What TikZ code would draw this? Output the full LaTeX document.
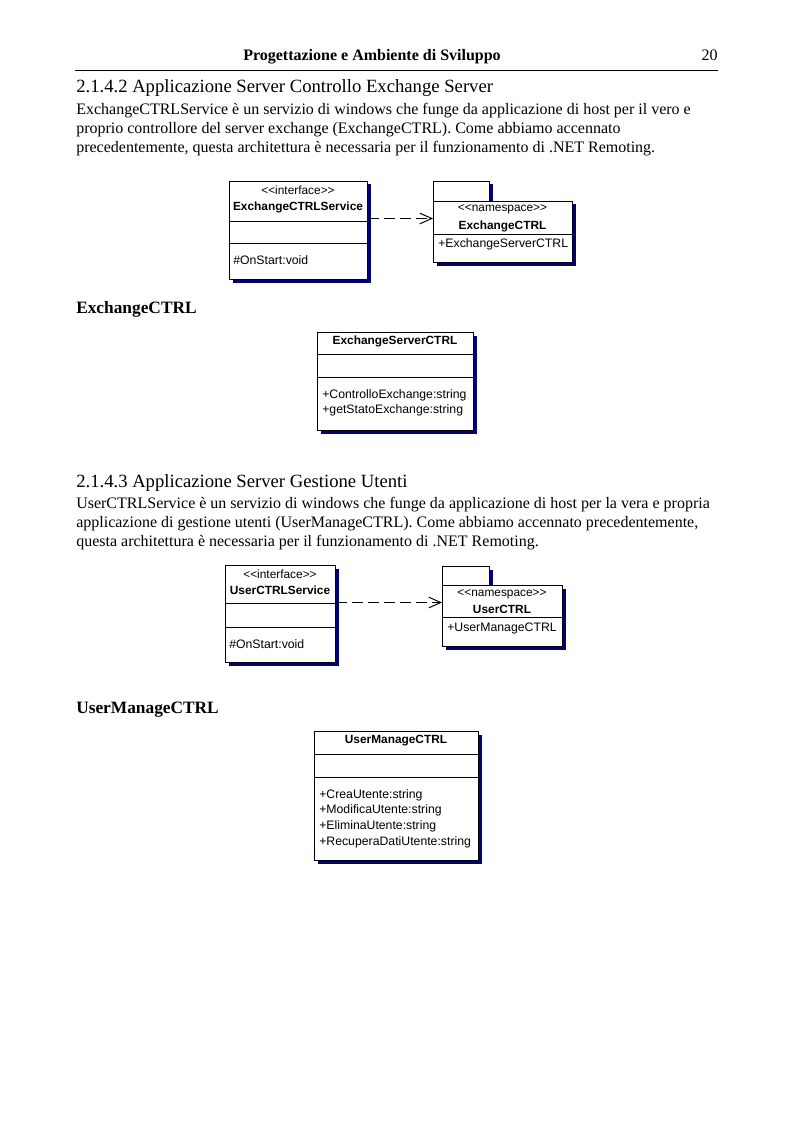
\documentclass[tikz,border=0pt]{standalone}
\usepackage{fontspec}
\setmainfont{Liberation Serif}
\newfontfamily\umlfont{Liberation Sans}
\usepackage{xcolor}
\usetikzlibrary{arrows.meta,shadows}
\definecolor{umlshadow}{RGB}{0,0,128}
\def\px{0.75pt}

\begin{document}
\begin{tikzpicture}[x=0.75pt, y=-0.75pt,
  txt/.style={anchor=base west, inner sep=0, align=left, font=\fontsize{12}{14.25}\selectfont},
  umlbox/.style={draw, fill=white, line width=0.75pt, inner sep=0, anchor=north west,
    drop shadow={shadow xshift=3*\px, shadow yshift=-3*\px, fill=umlshadow, opacity=1}},
  umlname/.style={inner sep=0, anchor=mid, font=\umlfont\fontsize{8.9}{10}\selectfont\bfseries},
  umlnote/.style={inner sep=0, anchor=mid, font=\umlfont\fontsize{8.9}{10}\selectfont},
  umlop/.style={inner sep=0, anchor=mid west, font=\umlfont\fontsize{9.2}{10}\selectfont},
  dep/.style={dash pattern=on 8.5pt off 3.5pt, line width=0.75pt, -{Straight Barb[length=9pt,width=8pt]}}]
\useasboundingbox[fill=white] (0,0) rectangle (793,1123);

% header
\node[txt, anchor=base, font=\fontsize{12}{14}\selectfont\bfseries] (head) at (372,61) {Progettazione e Ambiente di Sviluppo};
\node[txt, anchor=base east] (pagenum) at (718,61) {20};
\draw[line width=0.6pt] (75,70) -- (718,70);

% 2.1.4.2
\node[txt, font=\fontsize{14}{16}\selectfont] (sec1) at (76,93) {2.1.4.2 Applicazione Server Controllo Exchange Server};
\node[txt] (par1) at (76,153) {ExchangeCTRLService è un servizio di windows che funge da applicazione di host per il vero e\\
proprio controllore del server exchange (ExchangeCTRL). Come abbiamo accennato\\
precedentemente, questa architettura è necessaria per il funzionamento di .NET Remoting.};

\node[umlbox, minimum width=138*\px, minimum height=98*\px] (exsvc) at (229,181) {};
\draw (exsvc.north west) ++(0,40) -- ++(138,0) ++(-138,22) -- ++(138,0);
\node[umlnote] (exsvcst) at (298,191) {<<interface>>};
\node[umlname] (exsvcname) at (298,207) {ExchangeCTRLService};
\node[umlop] (exsvcop) at (233,261) {\#OnStart:void};

\node[umlbox, minimum width=56*\px, minimum height=20*\px] (exnstab) at (433,181) {};
\node[umlbox, minimum width=139*\px, minimum height=61*\px] (exns) at (433,201) {};
\draw (exns.north west) ++(0,33) -- ++(139,0);
\node[umlnote] (exnsst) at (502.5,208) {<<namespace>>};
\node[umlname] (exnsname) at (502.5,226) {ExchangeCTRL};
\node[umlop] (exnsop) at (438,244) {+ExchangeServerCTRL};

\draw[dep] ([yshift=12*\px]exsvc.east) coordinate (d1) -- (d1 -| exns.west);

\node[txt, font=\fontsize{13}{15}\selectfont\bfseries] (sub1) at (76,313) {ExchangeCTRL};

\node[umlbox, minimum width=156*\px, minimum height=98*\px] (exsrv) at (317,332) {};
\draw (exsrv.north west) ++(0,22) -- ++(156,0) ++(-156,23) -- ++(156,0);
\node[umlname] (exsrvname) at (395,341) {ExchangeServerCTRL};
\node[umlop] (exsrvop1) at (322,395) {+ControlloExchange:string};
\node[umlop] (exsrvop2) at (322,410.5) {+getStatoExchange:string};

% 2.1.4.3
\node[txt, font=\fontsize{14}{16}\selectfont] (sec2) at (76,487) {2.1.4.3 Applicazione Server Gestione Utenti};
\node[txt] (par2) at (76,546) {UserCTRLService è un servizio di windows che funge da applicazione di host per la vera e propria\\
applicazione di gestione utenti (UserManageCTRL). Come abbiamo accennato precedentemente,\\
questa architettura è necessaria per il funzionamento di .NET Remoting.};

\node[umlbox, minimum width=110*\px, minimum height=97*\px] (usvc) at (225,565) {};
\draw (usvc.north west) ++(0,38) -- ++(110,0) ++(-110,24) -- ++(110,0);
\node[umlnote] (usvcst) at (280,575) {<<interface>>};
\node[umlname] (usvcname) at (280,591) {UserCTRLService};
\node[umlop] (usvcop) at (229,645) {\#OnStart:void};

\node[umlbox, minimum width=47*\px, minimum height=19*\px] (unstab) at (442,566) {};
\node[umlbox, minimum width=120*\px, minimum height=61*\px] (uns) at (442,585) {};
\draw (uns.north west) ++(0,32) -- ++(120,0);
\node[umlnote] (unsst) at (502,593) {<<namespace>>};
\node[umlname] (unsname) at (502,610) {UserCTRL};
\node[umlop] (unsop) at (447,628) {+UserManageCTRL};

\draw[dep] ([yshift=11.5*\px]usvc.east) coordinate (d2) -- (d2 -| uns.west);

\node[txt, font=\fontsize{13}{15}\selectfont\bfseries] (sub2) at (76,713) {UserManageCTRL};

\node[umlbox, minimum width=164*\px, minimum height=129*\px] (umng) at (314,731) {};
\draw (umng.north west) ++(0,23) -- ++(164,0) ++(-164,23) -- ++(164,0);
\node[umlname] (umngname) at (396,740) {UserManageCTRL};
\node[umlop] (umngop1) at (319,795) {+CreaUtente:string};
\node[umlop] (umngop2) at (319,810.5) {+ModificaUtente:string};
\node[umlop] (umngop3) at (319,826) {+EliminaUtente:string};
\node[umlop] (umngop4) at (319,842) {+RecuperaDatiUtente:string};
\end{tikzpicture}
\end{document}
